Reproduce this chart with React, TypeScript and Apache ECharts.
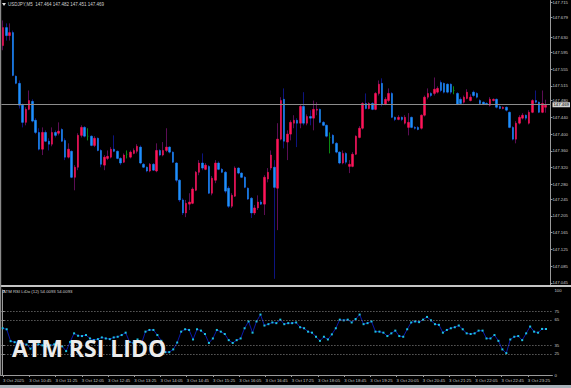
import React, { useEffect, useRef } from "react";
import * as echarts from "echarts";

const symbolName = "USDJPY,M5";
const lastOHLC = ["147.464", "147.482", "147.451", "147.469"];
const indicatorName = "ATM RSI LiDo (12) 54.0093 54.0093";
const overlayTitle = "ATM RSI LIDO";
const firstDateLabel = "3 Oct 2025";
const dayPrefix = "3 Oct ";
const lastPrice = 147.469;

const opens = [
  147.611, 147.654, 147.635, 147.642, 147.538, 147.521, 147.469, 147.428, 147.459, 147.478,
  147.433, 147.404, 147.364, 147.404, 147.383, 147.376, 147.404, 147.402, 147.411, 147.385,
  147.345, 147.359, 147.297, 147.321, 147.397, 147.416, 147.395, 147.395, 147.373, 147.390,
  147.361, 147.326, 147.342, 147.345, 147.364, 147.359, 147.342, 147.333, 147.352, 147.345,
  147.354, 147.359, 147.369, 147.328, 147.321, 147.312, 147.328, 147.312, 147.361, 147.350,
  147.361, 147.369, 147.357, 147.331, 147.290, 147.243, 147.212, 147.233, 147.235, 147.266,
  147.309, 147.331, 147.316, 147.323, 147.259, 147.290, 147.331, 147.316, 147.309, 147.271,
  147.228, 147.252, 147.319, 147.307, 147.297, 147.271, 147.247, 147.212, 147.224, 147.238,
  147.233, 147.293, 147.319, 147.321, 147.271, 147.388, 147.483, 147.381, 147.400, 147.426,
  147.433, 147.426, 147.466, 147.426, 147.442, 147.438, 147.457, 147.459, 147.428, 147.421,
  147.392, 147.397, 147.378, 147.357, 147.331, 147.354, 147.323, 147.323, 147.352, 147.392,
  147.414, 147.473, 147.461, 147.473, 147.459, 147.497, 147.521, 147.471, 147.480, 147.497,
  147.440, 147.435, 147.440, 147.426, 147.416, 147.440, 147.416, 147.416, 147.414, 147.445,
  147.488, 147.497, 147.497, 147.500, 147.523, 147.521, 147.519, 147.519, 147.504, 147.497,
  147.483, 147.476, 147.485, 147.480, 147.500, 147.497, 147.480, 147.476, 147.473, 147.469,
  147.480, 147.483, 147.466, 147.461, 147.464, 147.452, 147.416, 147.388, 147.426, 147.438,
  147.445, 147.426, 147.452, 147.480, 147.476, 147.452, 147.464,
];
const closes = [
  147.654, 147.635, 147.642, 147.540, 147.521, 147.469, 147.428, 147.459, 147.480, 147.431,
  147.404, 147.364, 147.404, 147.383, 147.376, 147.404, 147.397, 147.407, 147.383, 147.345,
  147.364, 147.297, 147.321, 147.397, 147.416, 147.395, 147.395, 147.373, 147.390, 147.361,
  147.328, 147.345, 147.347, 147.364, 147.359, 147.342, 147.331, 147.350, 147.352, 147.357,
  147.361, 147.371, 147.331, 147.321, 147.312, 147.328, 147.314, 147.361, 147.350, 147.361,
  147.369, 147.357, 147.333, 147.290, 147.243, 147.212, 147.235, 147.238, 147.269, 147.309,
  147.331, 147.319, 147.326, 147.259, 147.295, 147.331, 147.316, 147.309, 147.264, 147.228,
  147.254, 147.319, 147.307, 147.297, 147.273, 147.245, 147.212, 147.224, 147.238, 147.233,
  147.297, 147.309, 147.350, 147.273, 147.388, 147.480, 147.383, 147.400, 147.428, 147.433,
  147.426, 147.466, 147.426, 147.442, 147.438, 147.459, 147.459, 147.428, 147.421, 147.395,
  147.392, 147.378, 147.357, 147.331, 147.354, 147.333, 147.328, 147.352, 147.395, 147.414,
  147.473, 147.461, 147.473, 147.459, 147.497, 147.519, 147.471, 147.483, 147.497, 147.440,
  147.435, 147.440, 147.435, 147.440, 147.428, 147.416, 147.414, 147.411, 147.445, 147.488,
  147.497, 147.492, 147.507, 147.509, 147.504, 147.500, 147.500, 147.500, 147.504, 147.471,
  147.473, 147.488, 147.500, 147.488, 147.492, 147.488, 147.473, 147.471, 147.471, 147.483,
  147.483, 147.464, 147.461, 147.464, 147.457, 147.416, 147.388, 147.426, 147.440, 147.445,
  147.438, 147.452, 147.480, 147.476, 147.452, 147.473, 147.469,
];
const highs = [
  147.671, 147.664, 147.664, 147.647, 147.540, 147.528, 147.473, 147.464, 147.504, 147.483,
  147.438, 147.414, 147.416, 147.409, 147.390, 147.416, 147.409, 147.428, 147.414, 147.390,
  147.378, 147.361, 147.326, 147.402, 147.421, 147.419, 147.414, 147.397, 147.395, 147.392,
  147.364, 147.350, 147.361, 147.369, 147.397, 147.361, 147.345, 147.354, 147.361, 147.361,
  147.366, 147.376, 147.373, 147.331, 147.323, 147.331, 147.331, 147.378, 147.364, 147.381,
  147.414, 147.371, 147.359, 147.333, 147.293, 147.247, 147.243, 147.259, 147.273, 147.312,
  147.338, 147.354, 147.331, 147.326, 147.300, 147.338, 147.335, 147.319, 147.312, 147.276,
  147.259, 147.323, 147.321, 147.309, 147.300, 147.273, 147.250, 147.231, 147.254, 147.243,
  147.302, 147.319, 147.361, 147.338, 147.426, 147.488, 147.509, 147.409, 147.433, 147.445,
  147.438, 147.469, 147.500, 147.447, 147.457, 147.480, 147.476, 147.461, 147.431, 147.423,
  147.404, 147.400, 147.381, 147.359, 147.361, 147.357, 147.338, 147.357, 147.397, 147.419,
  147.476, 147.497, 147.476, 147.476, 147.500, 147.528, 147.533, 147.488, 147.509, 147.500,
  147.442, 147.445, 147.442, 147.445, 147.450, 147.442, 147.419, 147.419, 147.447, 147.492,
  147.509, 147.500, 147.535, 147.514, 147.528, 147.523, 147.521, 147.521, 147.514, 147.500,
  147.488, 147.492, 147.507, 147.495, 147.504, 147.500, 147.483, 147.478, 147.476, 147.488,
  147.485, 147.485, 147.469, 147.466, 147.466, 147.454, 147.419, 147.431, 147.445, 147.450,
  147.447, 147.457, 147.483, 147.504, 147.478, 147.504, 147.482,
];
const lows = [
  147.600, 147.623, 147.623, 147.538, 147.519, 147.461, 147.416, 147.421, 147.457, 147.428,
  147.400, 147.361, 147.350, 147.381, 147.361, 147.371, 147.392, 147.397, 147.381, 147.338,
  147.342, 147.295, 147.266, 147.314, 147.392, 147.392, 147.385, 147.371, 147.369, 147.359,
  147.321, 147.314, 147.338, 147.342, 147.357, 147.340, 147.326, 147.331, 147.342, 147.342,
  147.352, 147.354, 147.328, 147.319, 147.309, 147.309, 147.312, 147.309, 147.347, 147.347,
  147.357, 147.354, 147.331, 147.285, 147.238, 147.207, 147.202, 147.219, 147.233, 147.264,
  147.302, 147.314, 147.314, 147.257, 147.254, 147.283, 147.314, 147.307, 147.259, 147.224,
  147.224, 147.250, 147.304, 147.295, 147.271, 147.243, 147.200, 147.207, 147.219, 147.231,
  147.207, 147.285, 147.314, 147.055, 147.171, 147.385, 147.366, 147.338, 147.385, 147.414,
  147.369, 147.414, 147.421, 147.421, 147.421, 147.409, 147.445, 147.426, 147.419, 147.392,
  147.354, 147.376, 147.354, 147.328, 147.328, 147.328, 147.307, 147.321, 147.350, 147.390,
  147.411, 147.459, 147.459, 147.457, 147.457, 147.492, 147.466, 147.469, 147.476, 147.438,
  147.431, 147.433, 147.431, 147.423, 147.397, 147.414, 147.411, 147.409, 147.411, 147.442,
  147.483, 147.488, 147.492, 147.497, 147.500, 147.497, 147.497, 147.495, 147.495, 147.469,
  147.471, 147.473, 147.483, 147.478, 147.488, 147.485, 147.471, 147.469, 147.469, 147.466,
  147.478, 147.461, 147.459, 147.459, 147.454, 147.414, 147.385, 147.378, 147.423, 147.435,
  147.433, 147.423, 147.450, 147.473, 147.450, 147.450, 147.451,
];

const rsi = [
  55.0, 53.8, 39.8, 38.6, 38.6, 37.0, 35.8, 31.0, 34.6, 36.1, 34.9, 33.7, 34.9, 36.1, 34.6, 33.7,
  28.1, 38.9, 49.0, 46.2, 45.8, 47.0, 43.0, 41.0, 42.2, 44.2, 43.0, 42.2, 44.2, 45.0, 47.0, 49.8,
  38.9, 37.7, 41.8, 37.0, 51.0, 53.0, 53.0, 47.0, 40.2, 26.9, 26.9, 30.1, 38.2, 51.0, 53.8, 53.0,
  41.8, 53.8, 52.2, 48.2, 37.7, 43.0, 53.0, 51.0, 48.2, 41.0, 37.7, 41.0, 43.0, 55.0, 63.0, 49.8,
  63.0, 71.1, 58.2, 59.8, 61.8, 61.0, 65.1, 59.8, 61.0, 61.0, 61.8, 56.2, 55.0, 51.0, 49.8, 45.0,
  40.2, 45.0, 41.8, 47.8, 55.0, 65.1, 64.3, 65.1, 61.8, 65.9, 71.1, 59.8, 61.0, 63.0, 51.0, 51.0,
  49.8, 45.8, 49.0, 52.2, 45.8, 45.0, 53.8, 61.8, 63.0, 62.2, 65.1, 68.3, 64.3, 59.8, 59.0, 49.8,
  53.0, 55.0, 56.2, 58.2, 53.8, 49.0, 48.2, 49.0, 52.2, 52.2, 43.0, 43.0, 47.0, 40.2, 30.1, 25.7,
  41.8, 45.0, 45.8, 41.0, 49.0, 57.0, 51.0, 49.8, 54.2, 54.0,
];

const priceTicks = [
  147.045, 147.085, 147.125, 147.165, 147.205, 147.245, 147.28, 147.32, 147.36, 147.4, 147.44,
  147.48, 147.515, 147.555, 147.595, 147.63, 147.679, 147.715,
];
const rsiTicks = [0, 25, 35, 65, 75, 100];
const rsiLevels = [25, 35, 65, 75];

function makeTimes(count: number): string[] {
  const out: string[] = [];
  let m = 10 * 60 + 5;
  for (let i = 0; i < count; i++) {
    const t = m % (24 * 60);
    out.push(String(Math.floor(t / 60)).padStart(2, "0") + ":" + String(t % 60).padStart(2, "0"));
    m += 5;
  }
  return out;
}

const BULL = "#ff1459";
const BEAR = "#1e8fff";
const BULL_WICK = "#5c0d55";
const BEAR_WICK = "#0d1480";
const DOJI = "#0b8a12";
const FONT = "Liberation Sans";

export default function App() {
  const ref = useRef<HTMLDivElement>(null);
  useEffect(() => {
    if (!ref.current) return;
    const chart = echarts.init(ref.current, null, { renderer: "svg" });
    const L = 1.4;
    const W = 551;
    const times = makeTimes(opens.length + 1);
    const dojiStyle = { color: DOJI, color0: DOJI, borderColor: DOJI, borderColor0: DOJI };
    const wickData = opens.map((o, i) => {
      const v = [o, closes[i], lows[i], highs[i]];
      return o === closes[i] ? { value: v, itemStyle: dojiStyle } : v;
    });
    const bodyData = opens.map((o, i) => {
      const c = closes[i];
      const v = [o, c, Math.min(o, c), Math.max(o, c)];
      return o === c ? { value: v, itemStyle: dojiStyle } : v;
    });
    const N = rsi.length;
    const x0 = 2.7;
    const x1 = 546;
    const step = (x1 - x0) / (N - 1);
    const rsiMin = -(x0 - L) / step;
    const rsiMax = N - 1 + (L + W - x1) / step;
    const every8 = (i: number) => i % 8 === 0;

    chart.setOption({
      animation: false,
      backgroundColor: "#000000",
      grid: [
        { left: L, width: W, top: 0, height: 285 },
        { left: L, width: W, top: 290, height: 85 },
      ],
      xAxis: [
        { type: "category", gridIndex: 0, data: times, boundaryGap: true, show: false },
        {
          type: "category",
          gridIndex: 1,
          data: times,
          boundaryGap: true,
          axisLine: { show: true, lineStyle: { color: "#9a9a9a", width: 1 } },
          axisTick: { show: true, interval: every8, length: 2, alignWithLabel: true, lineStyle: { color: "#9a9a9a" } },
          axisLabel: {
            interval: every8,
            formatter: (v: string, i: number) => (i === 0 ? firstDateLabel : dayPrefix + v),
            align: "left",
            color: "#c8c8c8",
            fontSize: 4.3,
            fontFamily: FONT,
            margin: 3,
          },
          splitLine: { show: false },
        },
        { type: "value", gridIndex: 1, min: rsiMin, max: rsiMax, show: false },
      ],
      yAxis: [
        {
          type: "value",
          gridIndex: 0,
          position: "right",
          min: 147.0402,
          max: 147.7185,
          splitLine: { show: false },
          axisLine: { show: true, lineStyle: { color: "#9a9a9a" } },
          axisTick: { show: true, customValues: priceTicks, length: 2, lineStyle: { color: "#9a9a9a" } },
          axisLabel: {
            customValues: priceTicks,
            formatter: (v: number) => v.toFixed(3),
            color: "#c8c8c8",
            fontSize: 4.3,
            fontFamily: FONT,
            margin: 2,
          },
        },
        {
          type: "value",
          gridIndex: 1,
          position: "right",
          min: 0,
          max: 100,
          splitLine: { show: false },
          axisLine: { show: true, lineStyle: { color: "#9a9a9a" } },
          axisTick: { show: true, customValues: rsiTicks, length: 2, lineStyle: { color: "#9a9a9a" } },
          axisLabel: {
            customValues: rsiTicks,
            formatter: (v: number) => String(v),
            color: "#c8c8c8",
            fontSize: 4.3,
            fontFamily: FONT,
            margin: 2,
          },
        },
      ],
      series: [
        {
          type: "candlestick",
          xAxisIndex: 0,
          yAxisIndex: 0,
          data: wickData,
          barWidth: 0.4,
          itemStyle: { color: BULL_WICK, color0: BEAR_WICK, borderColor: BULL_WICK, borderColor0: BEAR_WICK, borderWidth: 1 },
          silent: true,
        },
        {
          type: "candlestick",
          xAxisIndex: 0,
          yAxisIndex: 0,
          data: bodyData,
          barWidth: 2,
          itemStyle: { color: BULL, color0: BEAR, borderColor: BULL, borderColor0: BEAR, borderWidth: 0.5 },
          silent: true,
          markLine: {
            silent: true,
            symbol: ["none", "none"],
            data: [{ yAxis: lastPrice }],
            lineStyle: { color: "#8c8c8c", type: "solid", width: 1 },
            label: {
              show: true,
              position: "end",
              formatter: lastPrice.toFixed(3),
              backgroundColor: "#d4d4d4",
              color: "#000000",
              fontSize: 4.3,
              fontFamily: FONT,
              padding: [1, 1, 0, 1],
              distance: 2,
            },
          },
        },
        {
          type: "line",
          xAxisIndex: 2,
          yAxisIndex: 1,
          data: rsi.map((v, i) => [i, v]),
          symbol: "rect",
          symbolSize: 2,
          showSymbol: true,
          itemStyle: { color: "#1dc4e0" },
          lineStyle: { color: "#0b18a8", width: 1 },
          silent: true,
          markLine: {
            silent: true,
            symbol: ["none", "none"],
            data: rsiLevels.map((v) => ({ yAxis: v })),
            lineStyle: { color: "#8a8a8a", type: [1, 2], width: 1 },
            label: { show: false },
          },
        },
      ],
      graphic: [
        { type: "rect", left: 0, top: 285, shape: { width: 571, height: 2 }, style: { fill: "#c4c4c4" }, z: 10 },
        { type: "rect", left: 0, top: 385, shape: { width: 571, height: 3 }, style: { fill: "#a9b1b9" }, z: 10 },
        { type: "rect", left: 0, top: 0, shape: { width: 1.2, height: 376 }, style: { fill: "#8a8a8a" }, z: 10 },
        { type: "polygon", shape: { points: [[2, 3], [6, 3], [4, 6]] }, style: { fill: "#e0e0e0" }, z: 10 },
        {
          type: "text",
          left: 8,
          top: 2,
          style: { text: symbolName + "  " + lastOHLC.join(" "), fill: "#d0d0d0", fontSize: 4.5, fontFamily: FONT },
          z: 10,
        },
        {
          type: "text",
          left: 3,
          top: 289,
          style: { text: indicatorName, fill: "#d0d0d0", fontSize: 4.3, fontFamily: FONT },
          z: 10,
        },
        {
          type: "text",
          left: 12,
          top: 336,
          style: { text: overlayTitle, fill: "#ececec", fontSize: 23, fontWeight: "bold", fontFamily: "Open Sans" },
          z: 20,
        },
      ],
    });
    return () => chart.dispose();
  }, []);
  return (
    <div
      ref={ref}
      style={{ position: "fixed", left: 0, top: 0, width: 571, height: 388, background: "#000" }}
    />
  );
}
